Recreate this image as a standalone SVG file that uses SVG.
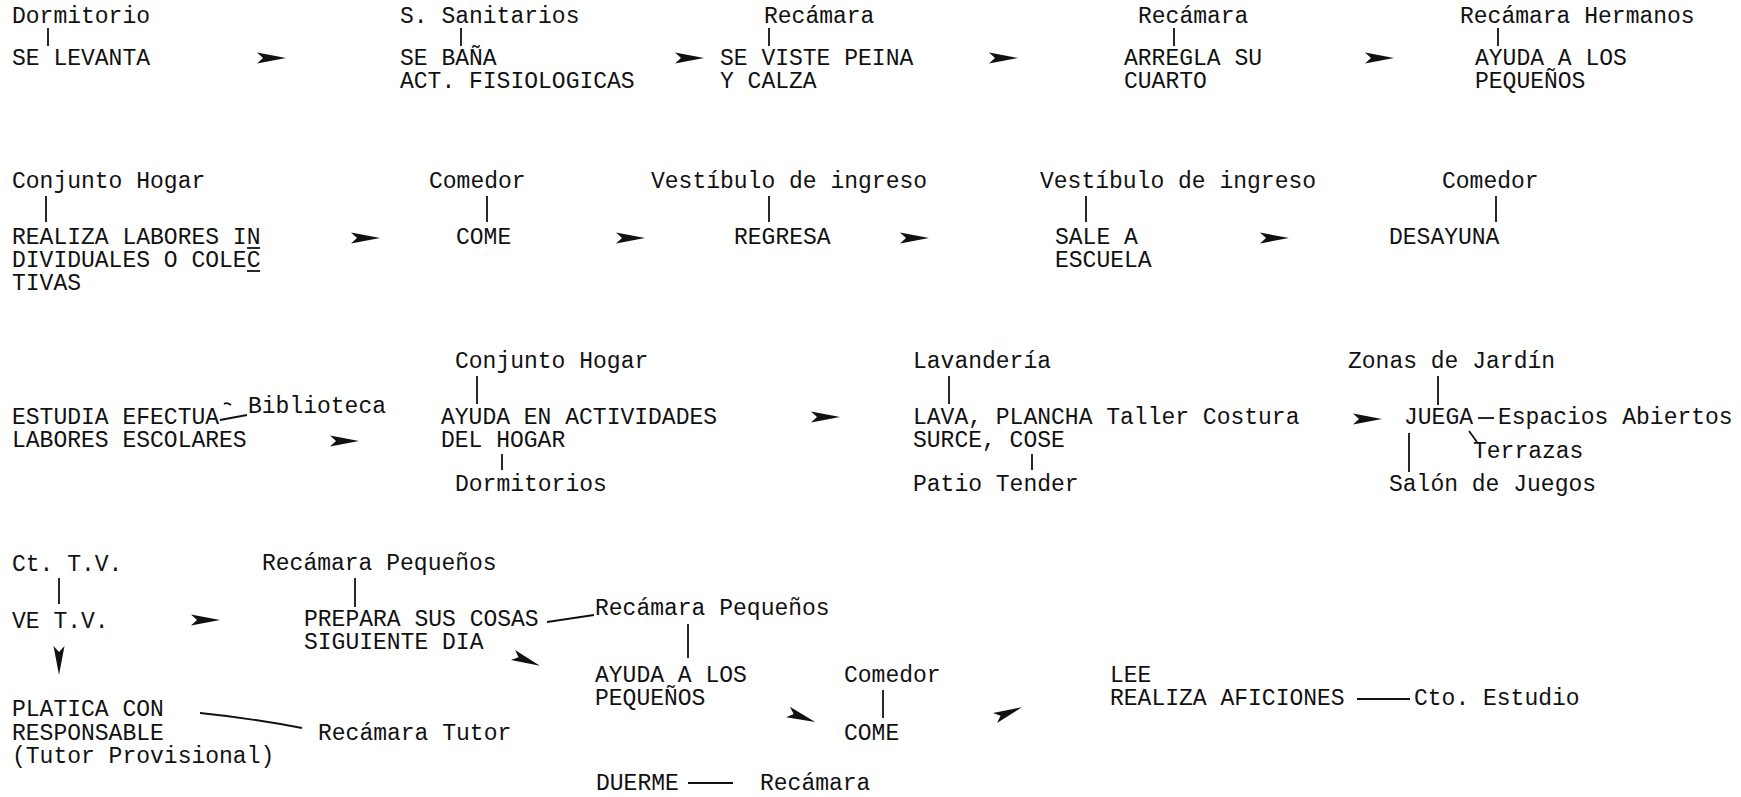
<svg xmlns="http://www.w3.org/2000/svg" width="1741" height="797" viewBox="0 0 1741 797">
<style>
text{font-family:"Liberation Mono","Courier New",monospace;font-size:23px;fill:#111}
.ln{stroke:#111;stroke-width:1.8;fill:none}
</style>
<defs>
<path id="arr" d="M0,-5.5 L29,0 L0,5.5 L6,0 Z" fill="#111"/>
</defs>
<rect width="1741" height="797" fill="#fff"/>
<g id="connectors">
<line class="ln" x1="48" y1="28" x2="48" y2="46"/>
<line class="ln" x1="461" y1="28" x2="461" y2="46"/>
<line class="ln" x1="769" y1="28" x2="769" y2="46"/>
<line class="ln" x1="1174" y1="28" x2="1174" y2="46"/>
<line class="ln" x1="1498" y1="28" x2="1498" y2="46"/>
<use href="#arr" x="257" y="58"/>
<use href="#arr" x="675" y="58"/>
<use href="#arr" x="989" y="58"/>
<use href="#arr" x="1365" y="58"/>
<line class="ln" x1="46" y1="196" x2="46" y2="222"/>
<line class="ln" x1="487" y1="196" x2="487" y2="222"/>
<line class="ln" x1="769" y1="196" x2="769" y2="222"/>
<line class="ln" x1="1086" y1="196" x2="1086" y2="222"/>
<line class="ln" x1="1496" y1="196" x2="1496" y2="222"/>
<line class="ln" x1="247" y1="248" x2="260" y2="248"/>
<line class="ln" x1="247" y1="271" x2="260" y2="271"/>
<use href="#arr" x="351" y="238"/>
<use href="#arr" x="616" y="238"/>
<use href="#arr" x="900" y="238"/>
<use href="#arr" x="1260" y="238"/>
<path class="ln" d="M220,420 L247,415"/>
<path class="ln" d="M224,404 Q227,402 231,405" stroke-width="1.3"/>
<use href="#arr" x="330" y="441"/>
<line class="ln" x1="477" y1="376" x2="477" y2="404"/>
<line class="ln" x1="502" y1="454" x2="502" y2="470"/>
<use href="#arr" x="811" y="417"/>
<line class="ln" x1="949" y1="376" x2="949" y2="404"/>
<line class="ln" x1="1032" y1="454" x2="1032" y2="470"/>
<use href="#arr" x="1353" y="419"/>
<line class="ln" x1="1438" y1="376" x2="1438" y2="405"/>
<line class="ln" x1="1478" y1="418" x2="1494" y2="418"/>
<line class="ln" x1="1469" y1="431" x2="1477" y2="442"/>
<line class="ln" x1="1409" y1="433" x2="1409" y2="472"/>
<line class="ln" x1="59" y1="578" x2="59" y2="604"/>
<use href="#arr" x="191" y="620"/>
<use href="#arr" transform="translate(59,646) rotate(90)"/>
<path class="ln" d="M200,713 Q250,718 302,728" stroke-width="2"/>
<line class="ln" x1="355" y1="578" x2="355" y2="607"/>
<path class="ln" d="M547,622 L594,615"/>
<line class="ln" x1="688" y1="624" x2="688" y2="658"/>
<use href="#arr" transform="translate(513,655) rotate(22)"/>
<use href="#arr" transform="translate(788,712) rotate(20)"/>
<line class="ln" x1="883" y1="690" x2="883" y2="718"/>
<use href="#arr" transform="translate(995,718) rotate(-22)"/>
<line class="ln" x1="1357" y1="699" x2="1410" y2="699"/>
<line class="ln" x1="688" y1="783" x2="733" y2="783"/>
</g>
<g id="n-dormitorio"><text x="12" y="23">Dormitorio</text><text x="12" y="65">SE LEVANTA</text></g>
<g id="n-sebana"><text x="400" y="23">S. Sanitarios</text><text x="400" y="65">SE BAÑA</text><text x="400" y="88">ACT. FISIOLOGICAS</text></g>
<g id="n-seviste"><text x="764" y="23">Recámara</text><text x="720" y="65">SE VISTE PEINA</text><text x="720" y="88">Y CALZA</text></g>
<g id="n-arregla"><text x="1138" y="23">Recámara</text><text x="1124" y="65">ARREGLA SU</text><text x="1124" y="88">CUARTO</text></g>
<g id="n-ayuda1"><text x="1460" y="23">Recámara Hermanos</text><text x="1475" y="65">AYUDA A LOS</text><text x="1475" y="88">PEQUEÑOS</text></g>
<g id="n-desayuna"><text x="1442" y="188">Comedor</text><text x="1389" y="244">DESAYUNA</text></g>
<g id="n-sale"><text x="1040" y="188">Vestíbulo de ingreso</text><text x="1055" y="244">SALE A</text><text x="1055" y="267">ESCUELA</text></g>
<g id="n-regresa"><text x="651" y="188">Vestíbulo de ingreso</text><text x="734" y="244">REGRESA</text></g>
<g id="n-come1"><text x="429" y="188">Comedor</text><text x="456" y="244">COME</text></g>
<g id="n-labores"><text x="12" y="188">Conjunto Hogar</text><text x="12" y="244">REALIZA LABORES IN</text><text x="12" y="267">DIVIDUALES O COLEC</text><text x="12" y="290">TIVAS</text></g>
<g id="n-estudia"><text x="12" y="424">ESTUDIA EFECTUA</text><text x="12" y="447">LABORES ESCOLARES</text><text x="248" y="413">Biblioteca</text></g>
<g id="n-ayudahogar"><text x="455" y="368">Conjunto Hogar</text><text x="441" y="424">AYUDA EN ACTIVIDADES</text><text x="441" y="447">DEL HOGAR</text><text x="455" y="491">Dormitorios</text></g>
<g id="n-lava"><text x="913" y="368">Lavandería</text><text x="913" y="424">LAVA, PLANCHA Taller Costura</text><text x="913" y="447">SURCE, COSE</text><text x="913" y="491">Patio Tender</text></g>
<g id="n-juega"><text x="1348" y="368">Zonas de Jardín</text><text x="1404" y="424">JUEGA</text><text x="1498" y="424">Espacios Abiertos</text><text x="1473" y="458">Terrazas</text><text x="1389" y="491">Salón de Juegos</text></g>
<g id="n-vetv"><text x="12" y="571">Ct. T.V.</text><text x="12" y="628">VE T.V.</text></g>
<g id="n-platica"><text x="12" y="716">PLATICA CON</text><text x="12" y="740">RESPONSABLE</text><text x="12" y="763">(Tutor Provisional)</text><text x="318" y="740">Recámara Tutor</text></g>
<g id="n-prepara"><text x="262" y="570">Recámara Pequeños</text><text x="304" y="626">PREPARA SUS COSAS</text><text x="304" y="649">SIGUIENTE DIA</text></g>
<g id="n-ayuda2"><text x="595" y="615">Recámara Pequeños</text><text x="595" y="682">AYUDA A LOS</text><text x="595" y="705">PEQUEÑOS</text></g>
<g id="n-come2"><text x="844" y="682">Comedor</text><text x="844" y="740">COME</text></g>
<g id="n-lee"><text x="1110" y="682">LEE</text><text x="1110" y="705">REALIZA AFICIONES</text><text x="1414" y="705">Cto. Estudio</text></g>
<g id="n-duerme"><text x="596" y="790">DUERME</text><text x="760" y="790">Recámara</text></g>
</svg>
